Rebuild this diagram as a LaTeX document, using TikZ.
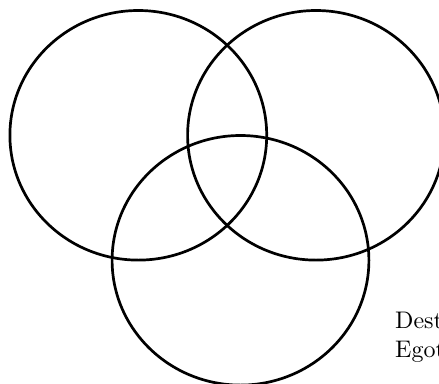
\documentclass[tikz,border=0pt]{standalone}
\usepackage{fontspec}
\setmainfont{lmroman10-regular.otf}
\begin{document}
\begin{tikzpicture}[x=1pt,y=-1pt,
  setring/.style={draw=black,line width=2.7pt},
  lbl/.style={anchor=base west,inner sep=0pt,font=\fontsize{24}{28}\selectfont}]
\useasboundingbox (0,0) rectangle (439,383);
\clip (0,0) rectangle (439,383);
\draw[setring] (138.3,135.3) ellipse [x radius=128.4, y radius=124.8];
\draw[setring] (316,135.3) ellipse [x radius=128.4, y radius=124.8];
\draw[setring] (240.5,260.3) ellipse [x radius=128.4, y radius=124.8];
\node[lbl] (t1) at (395,328) {Dest};
\node[lbl] (t2) at (395,357) {Egot};
\end{tikzpicture}
\end{document}
